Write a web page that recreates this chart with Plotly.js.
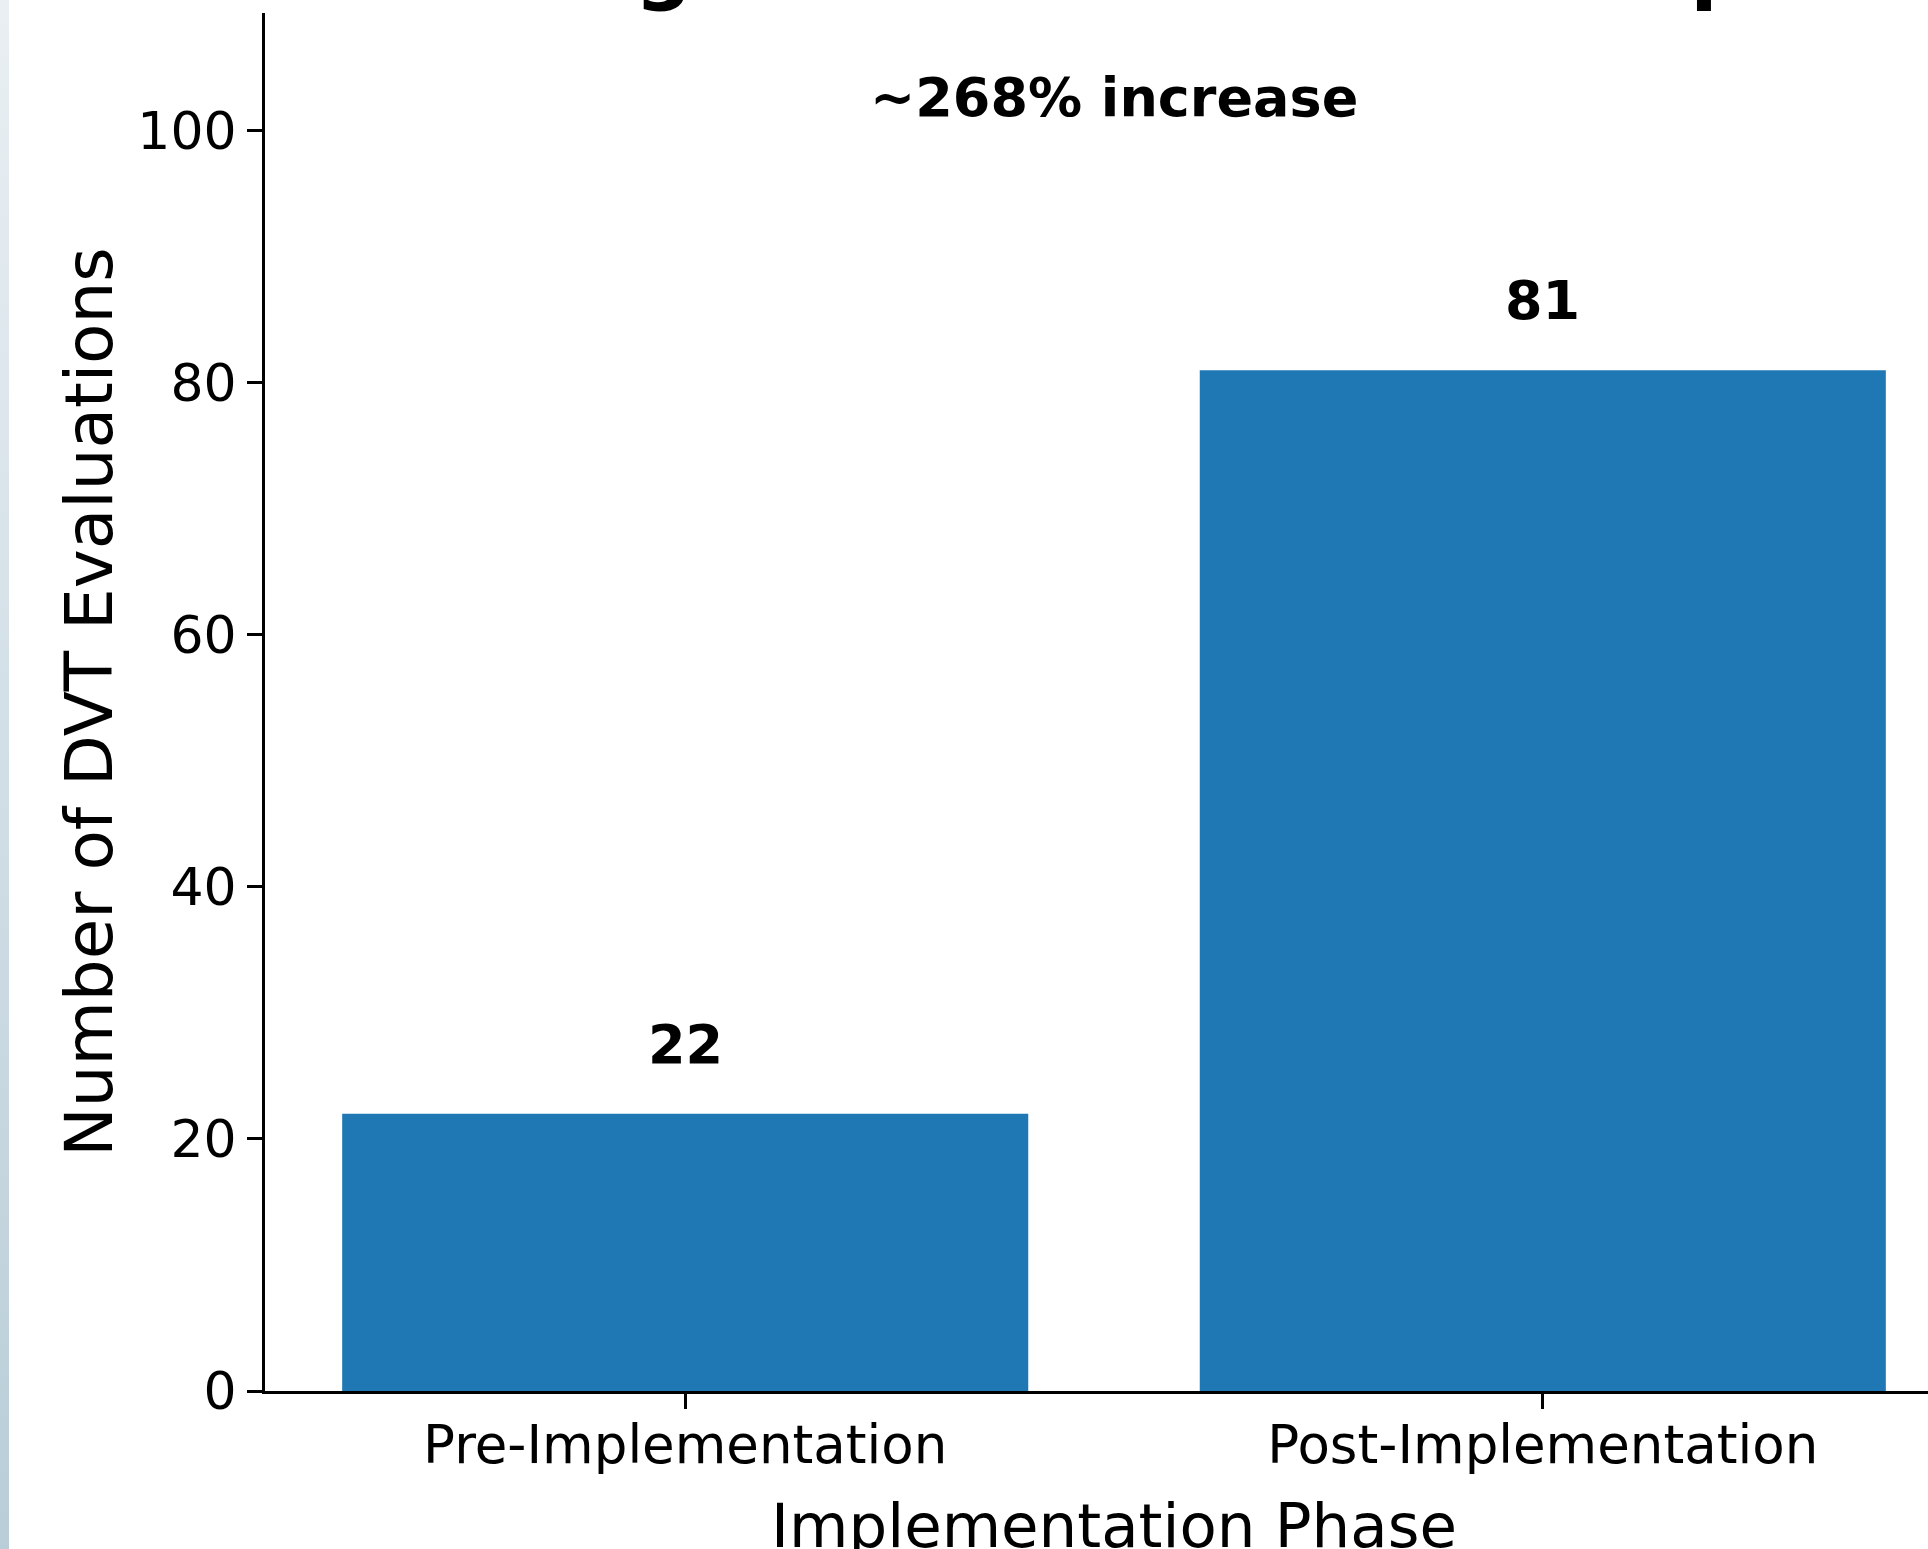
<!DOCTYPE html>
<html>
<head>
<meta charset="utf-8">
<script src="https://cdn.plot.ly/plotly-3.0.1.min.js"></script>
<style>
html,body{margin:0;padding:0;width:1928px;height:1549px;overflow:hidden;background:#ffffff;}
#strip{position:absolute;left:0;top:0;width:9px;height:1549px;background:linear-gradient(to bottom,#e9eff3,#b9cdd8);z-index:5;}
#chart{position:absolute;left:0;top:-200px;width:1980px;height:1849px;}
</style>
</head>
<body>
<div id="strip"></div>
<div id="chart"></div>
<script>
// ---- data ----
const categories = ['Pre-Implementation', 'Post-Implementation'];
const evaluations = [22, 81];
const increaseLabel = '~268% increase';
const yTickValues = [0, 20, 40, 60, 80, 100];
const chartTitle = 'DVT Screening Rates Pre- vs Post-Implementation';
const xAxisTitle = 'Implementation Phase';
const yAxisTitle = 'Number of DVT Evaluations';

// ---- styling ----
const FONT = 'DejaVu Sans, Liberation Sans, sans-serif';
const barColor = '#1f77b4';
const yMax = Math.max(...evaluations) * 1.35;

const barTrace = {
  type: 'bar',
  x: categories,
  y: evaluations,
  marker: {color: barColor, line: {width: 0}},
  hoverinfo: 'x+y',
  showlegend: false
};

const annotations = categories.map((c, i) => ({
  x: c, y: evaluations[i] + 3, xref: 'x', yref: 'y',
  text: String(evaluations[i]),
  showarrow: false, xanchor: 'center', yanchor: 'bottom', yshift: -2,
  font: {family: FONT, size: 54, color: '#000000', weight: 'bold'}
}));
annotations.push({
  x: 0.5, xref: 'paper', y: 100, yref: 'y',
  text: increaseLabel, showarrow: false, xanchor: 'center', yanchor: 'bottom',
  font: {family: FONT, size: 54, color: '#000000', weight: 'bold'}
});

const layout = {
  width: 1980, height: 1849,
  margin: {l: 265, r: 17, t: 213, b: 258, pad: 0},
  paper_bgcolor: '#ffffff', plot_bgcolor: '#ffffff',
  bargap: 0.2,
  title: {
    text: chartTitle,
    font: {family: FONT, size: 80, color: '#000000', weight: 'bold'},
    x: 0.528, xref: 'paper', y: 1 - 194 / 1849, yref: 'container', yanchor: 'bottom'
  },
  font: {family: FONT, color: '#000000'},
  xaxis: {
    type: 'category', range: [-0.49, 1.49], autorange: false,
    showline: true, linecolor: '#000000', linewidth: 3,
    ticks: 'outside', ticklen: 15, tickwidth: 2.5, tickcolor: '#000000',
    tickfont: {family: FONT, size: 53, color: '#000000'},
    ticklabelstandoff: -10,
    showgrid: false, zeroline: false, automargin: false,
    title: {text: xAxisTitle, font: {family: FONT, size: 61, color: '#000000'}, standoff: 31}
  },
  yaxis: {
    range: [0, yMax], autorange: false,
    tickmode: 'array', tickvals: yTickValues, ticktext: yTickValues.map(String),
    showline: true, linecolor: '#000000', linewidth: 3,
    ticks: 'outside', ticklen: 15, tickwidth: 2.5, tickcolor: '#000000',
    tickfont: {family: FONT, size: 52, color: '#000000'},
    showgrid: false, zeroline: false, automargin: false,
    title: {text: yAxisTitle, font: {family: FONT, size: 66, color: '#000000'}, standoff: 4}
  },
  annotations: annotations
};

Plotly.newPlot('chart', [barTrace], layout, {displayModeBar: false, staticPlot: false});
</script>
</body>
</html>
